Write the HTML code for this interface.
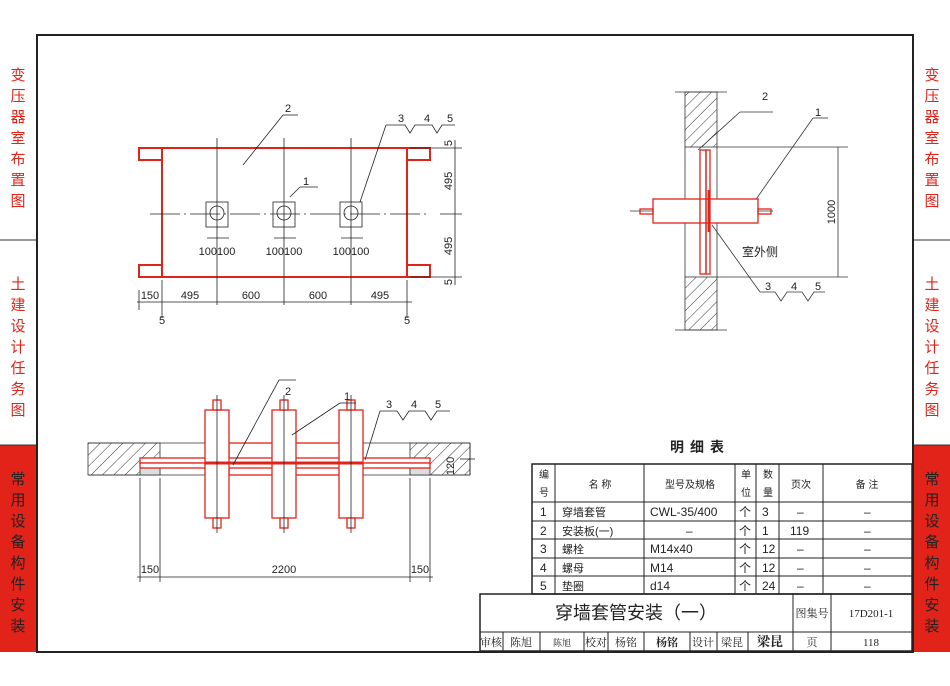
<!DOCTYPE html>
<html><head><meta charset="utf-8"><style>
body{margin:0;background:#fff}
svg{display:block;font-family:"Liberation Sans","Noto Sans CJK SC",sans-serif}
</style></head><body>
<svg width="950" height="686" viewBox="0 0 950 686" xmlns="http://www.w3.org/2000/svg">
<defs>
<pattern id="h" width="8" height="8" patternUnits="userSpaceOnUse" patternTransform="rotate(45)">
<line x1="0" y1="0" x2="0" y2="8" stroke="#333" stroke-width="1"/></pattern>
</defs>
<rect width="950" height="686" fill="#fff"/>
<rect x="0" y="445" width="37" height="207" fill="#e2231a"/>
<rect x="913" y="445" width="37" height="207" fill="#e2231a"/>
<g stroke="#333" stroke-width="1"><line x1="0" y1="240" x2="37" y2="240"/><line x1="0" y1="445" x2="37" y2="445"/><line x1="913" y1="240" x2="950" y2="240"/><line x1="913" y1="445" x2="950" y2="445"/></g>
<g font-size="15" fill="#e2231a" text-anchor="middle">
<text x="18" y="80">变</text><text x="18" y="101">压</text><text x="18" y="122">器</text><text x="18" y="143">室</text><text x="18" y="164">布</text><text x="18" y="185">置</text><text x="18" y="206">图</text>
<text x="932" y="80">变</text><text x="932" y="101">压</text><text x="932" y="122">器</text><text x="932" y="143">室</text><text x="932" y="164">布</text><text x="932" y="185">置</text><text x="932" y="206">图</text>
<text x="18" y="289">土</text><text x="18" y="310">建</text><text x="18" y="331">设</text><text x="18" y="352">计</text><text x="18" y="373">任</text><text x="18" y="394">务</text><text x="18" y="415">图</text>
<text x="932" y="289">土</text><text x="932" y="310">建</text><text x="932" y="331">设</text><text x="932" y="352">计</text><text x="932" y="373">任</text><text x="932" y="394">务</text><text x="932" y="415">图</text>
</g>
<g font-size="15" fill="#222" text-anchor="middle">
<text x="18" y="484">常</text><text x="18" y="505">用</text><text x="18" y="526">设</text><text x="18" y="547">备</text><text x="18" y="568">构</text><text x="18" y="589">件</text><text x="18" y="610">安</text><text x="18" y="631">装</text>
<text x="932" y="484">常</text><text x="932" y="505">用</text><text x="932" y="526">设</text><text x="932" y="547">备</text><text x="932" y="568">构</text><text x="932" y="589">件</text><text x="932" y="610">安</text><text x="932" y="631">装</text>
</g>
<rect x="37" y="35" width="876" height="617" fill="none" stroke="#222" stroke-width="2"/>

<g fill="none" stroke="#e2231a" stroke-width="2">
<rect x="162" y="148" width="245" height="129"/>
<rect x="139" y="148" width="23" height="12"/><rect x="139" y="265" width="23" height="12"/>
<rect x="407" y="148" width="23" height="12"/><rect x="407" y="265" width="23" height="12"/>
</g>
<g stroke="#222" stroke-width="0.8" fill="none">
<line x1="217" y1="138" x2="217" y2="305"/><line x1="284" y1="138" x2="284" y2="305"/><line x1="351" y1="138" x2="351" y2="305"/>
<line x1="150" y1="214" x2="430" y2="214" stroke-dasharray="30 4 2 4"/>
<rect x="206" y="202" width="22" height="25"/><rect x="273" y="202" width="22" height="25"/><rect x="340" y="202" width="22" height="25"/>
<circle cx="217" cy="213" r="7"/><circle cx="284" cy="213" r="7"/><circle cx="351" cy="213" r="7"/>
<line x1="207" y1="238" x2="229" y2="238"/><line x1="274" y1="238" x2="296" y2="238"/><line x1="341" y1="238" x2="363" y2="238"/>
<line x1="137" y1="302" x2="412" y2="302"/>
<line x1="139" y1="290" x2="139" y2="310"/><line x1="162" y1="280" x2="162" y2="318"/><line x1="407" y1="280" x2="407" y2="318"/>
<line x1="410" y1="148" x2="462" y2="148"/><line x1="410" y1="277" x2="462" y2="277"/><line x1="440" y1="214" x2="462" y2="214"/>
<line x1="455" y1="140" x2="455" y2="285"/>
<line x1="243" y1="165" x2="283" y2="115"/><line x1="283" y1="115" x2="298" y2="115"/>
<line x1="290" y1="197" x2="300" y2="187"/><line x1="300" y1="187" x2="318" y2="187"/>
<line x1="360" y1="202" x2="386" y2="125"/><polyline points="386,125 405,125 410,133 415,125 432,125 437,133 442,125 455,125"/>
</g>
<g font-size="11" fill="#222" text-anchor="middle">
<text x="288" y="112">2</text><text x="306" y="185">1</text><text x="401" y="122">3</text><text x="427" y="122">4</text><text x="450" y="122">5</text>
<text x="217" y="255">100100</text><text x="284" y="255">100100</text><text x="351" y="255">100100</text>
<text x="150" y="299">150</text><text x="190" y="299">495</text><text x="251" y="299">600</text><text x="318" y="299">600</text><text x="380" y="299">495</text>
<text x="162" y="324">5</text><text x="407" y="324">5</text>
<text transform="translate(452,181) rotate(-90)">495</text><text transform="translate(452,246) rotate(-90)">495</text>
<text transform="translate(452,143) rotate(-90)">5</text><text transform="translate(452,282) rotate(-90)">5</text>
</g>

<g stroke="#333" stroke-width="0.8">
<rect x="88" y="443" width="72" height="32" fill="url(#h)"/><rect x="410" y="443" width="60" height="32" fill="url(#h)"/>
<line x1="88" y1="443" x2="205" y2="443"/><line x1="88" y1="475" x2="205" y2="475"/>
<line x1="360" y1="443" x2="470" y2="443"/><line x1="360" y1="475" x2="470" y2="475"/>
<rect x="140" y="459" width="20" height="16" fill="#ddd"/><rect x="410" y="459" width="20" height="16" fill="#ddd"/>
</g>
<g fill="#fff" stroke="#e2231a" stroke-width="1.3">
<rect x="229" y="443" width="111" height="32"/>
<rect x="140" y="458" width="290" height="5"/><rect x="140" y="463" width="290" height="5"/>
<rect x="205" y="410" width="24" height="108"/><rect x="272" y="410" width="24" height="108"/><rect x="339" y="410" width="24" height="108"/>
<rect x="213" y="400" width="8" height="10"/><rect x="280" y="400" width="8" height="10"/><rect x="347" y="400" width="8" height="10"/>
<rect x="213" y="518" width="8" height="10"/><rect x="280" y="518" width="8" height="10"/><rect x="347" y="518" width="8" height="10"/>
</g>
<g stroke="#e2231a" stroke-width="3"><line x1="205" y1="463" x2="363" y2="463"/></g>
<g stroke="#222" stroke-width="0.8" fill="none">
<line x1="217" y1="395" x2="217" y2="533"/><line x1="284" y1="395" x2="284" y2="533"/><line x1="351" y1="395" x2="351" y2="533"/>
<line x1="140" y1="478" x2="140" y2="582"/><line x1="160" y1="478" x2="160" y2="582"/><line x1="410" y1="478" x2="410" y2="582"/><line x1="430" y1="478" x2="430" y2="582"/>
<line x1="137" y1="577" x2="433" y2="577"/>
<line x1="233" y1="465" x2="279" y2="380"/><line x1="279" y1="380" x2="296" y2="380"/>
<line x1="292" y1="435" x2="340" y2="403"/><line x1="340" y1="403" x2="356" y2="403"/>
<line x1="365" y1="460" x2="380" y2="411"/><polyline points="380,411 397,411 403,420 409,411 425,411 431,420 437,411 450,411"/>
<line x1="470" y1="443" x2="470" y2="475"/><line x1="460" y1="459" x2="475" y2="459"/>
</g>
<g font-size="11" fill="#222" text-anchor="middle">
<text x="288" y="395">2</text><text x="347" y="400">1</text><text x="389" y="408">3</text><text x="414" y="408">4</text><text x="438" y="408">5</text>
<text x="150" y="573">150</text><text x="284" y="573">2200</text><text x="420" y="573">150</text>
<text transform="translate(454,466) rotate(-90)">120</text>
</g>

<g stroke="#333" stroke-width="0.8" fill="none">
<rect x="685" y="92" width="32" height="55" fill="url(#h)"/><rect x="685" y="277" width="32" height="53" fill="url(#h)"/>
<line x1="675" y1="92" x2="727" y2="92"/><line x1="675" y1="330" x2="727" y2="330"/>
<line x1="685" y1="147" x2="685" y2="277"/><line x1="717" y1="147" x2="717" y2="277"/>
<line x1="717" y1="147" x2="848" y2="147"/><line x1="717" y1="277" x2="848" y2="277"/>
<line x1="838" y1="147" x2="838" y2="277"/>
<line x1="630" y1="211" x2="773" y2="211"/>
<line x1="698" y1="150" x2="740" y2="112"/><line x1="740" y1="112" x2="773" y2="112"/>
<line x1="752" y1="205" x2="813" y2="118"/><line x1="813" y1="118" x2="828" y2="118"/>
<line x1="712" y1="225" x2="760" y2="292"/><polyline points="760,292 775,292 781,301 787,292 802,292 808,301 814,292 825,292"/>
</g>
<g fill="none" stroke="#e2231a" stroke-width="1.3">
<rect x="653" y="199" width="105" height="24" fill="#fff"/>
<rect x="700" y="150" width="6" height="124"/><rect x="706" y="150" width="4" height="124"/>
<rect x="640" y="209" width="13" height="5"/><rect x="758" y="209" width="13" height="5"/>
</g>
<g stroke="#e2231a" stroke-width="3"><line x1="709" y1="190" x2="709" y2="232"/></g>
<g font-size="11" fill="#222" text-anchor="middle">
<text x="765" y="100">2</text><text x="818" y="116">1</text><text x="768" y="290">3</text><text x="794" y="290">4</text><text x="818" y="290">5</text>
<text x="760" y="256" font-size="12">室外侧</text>
<text transform="translate(835,212) rotate(-90)">1000</text>
</g>

<text x="700" y="452" font-size="14" font-weight="bold" text-anchor="middle" fill="#222" letter-spacing="6">明细表</text>
<g stroke="#222" stroke-width="1" fill="none">
<rect x="532" y="464" width="380" height="130" stroke-width="1.5"/>
<line x1="532" y1="502" x2="912" y2="502"/><line x1="532" y1="521" x2="912" y2="521"/><line x1="532" y1="539" x2="912" y2="539"/><line x1="532" y1="558" x2="912" y2="558"/><line x1="532" y1="576" x2="912" y2="576"/>
<line x1="555" y1="464" x2="555" y2="594"/><line x1="644" y1="464" x2="644" y2="594"/><line x1="735" y1="464" x2="735" y2="594"/><line x1="756" y1="464" x2="756" y2="594"/><line x1="779" y1="464" x2="779" y2="594"/><line x1="823" y1="464" x2="823" y2="594"/>
<rect x="480" y="594" width="432" height="57" stroke-width="1.5"/>
<line x1="480" y1="632" x2="912" y2="632"/>
<line x1="793" y1="594" x2="793" y2="651"/><line x1="831" y1="594" x2="831" y2="651"/>
<line x1="503" y1="632" x2="503" y2="651"/><line x1="540" y1="632" x2="540" y2="651"/><line x1="584" y1="632" x2="584" y2="651"/><line x1="608" y1="632" x2="608" y2="651"/><line x1="644" y1="632" x2="644" y2="651"/><line x1="690" y1="632" x2="690" y2="651"/><line x1="717" y1="632" x2="717" y2="651"/><line x1="748" y1="632" x2="748" y2="651"/>
</g>
<g font-size="10" fill="#222" text-anchor="middle">
<text x="544" y="478">编</text><text x="544" y="496">号</text>
<text x="600" y="488">名 称</text><text x="690" y="488">型号及规格</text>
<text x="746" y="478">单</text><text x="746" y="496">位</text><text x="768" y="478">数</text><text x="768" y="496">量</text>
<text x="801" y="488">页次</text><text x="867" y="488">备 注</text>
</g>
<g font-size="12" fill="#222">
<text x="540" y="516">1</text><text x="540" y="535">2</text><text x="540" y="553">3</text><text x="540" y="572">4</text><text x="540" y="590">5</text>
<text x="562" y="516" font-size="11">穿墙套管</text><text x="562" y="535" font-size="11">安装板(一)</text><text x="562" y="553" font-size="11">螺栓</text><text x="562" y="572" font-size="11">螺母</text><text x="562" y="590" font-size="11">垫圈</text>
<text x="650" y="516">CWL-35/400</text><text x="686" y="535">–</text><text x="650" y="553">M14x40</text><text x="650" y="572">M14</text><text x="650" y="590">d14</text>
<text x="739" y="516">个</text><text x="739" y="535">个</text><text x="739" y="553">个</text><text x="739" y="572">个</text><text x="739" y="590">个</text>
<text x="762" y="516">3</text><text x="762" y="535">1</text><text x="762" y="553">12</text><text x="762" y="572">12</text><text x="762" y="590">24</text>
<text x="797" y="516">–</text><text x="790" y="535">119</text><text x="797" y="553">–</text><text x="797" y="572">–</text><text x="797" y="590">–</text>
<text x="864" y="516">–</text><text x="864" y="535">–</text><text x="864" y="553">–</text><text x="864" y="572">–</text><text x="864" y="590">–</text>
</g>
<text x="636" y="619" font-size="18" text-anchor="middle" fill="#222">穿墙套管安装（一）</text>
<g font-size="11" fill="#222" text-anchor="middle" font-family="Liberation Serif,Noto Serif CJK SC,serif">
<text x="812" y="617">图集号</text><text x="871" y="617">17D201-1</text>
<text x="491" y="646">审核</text><text x="521" y="646">陈旭</text><text x="562" y="646" font-size="9">陈旭</text><text x="596" y="646">校对</text><text x="626" y="646">杨铭</text><text x="667" y="646" font-weight="bold">杨铭</text><text x="703" y="646">设计</text><text x="732" y="646">梁昆</text><text x="770" y="646" font-weight="bold" font-size="13">梁昆</text><text x="812" y="646">页</text><text x="871" y="646">118</text>
</g>
</svg>
</body></html>
